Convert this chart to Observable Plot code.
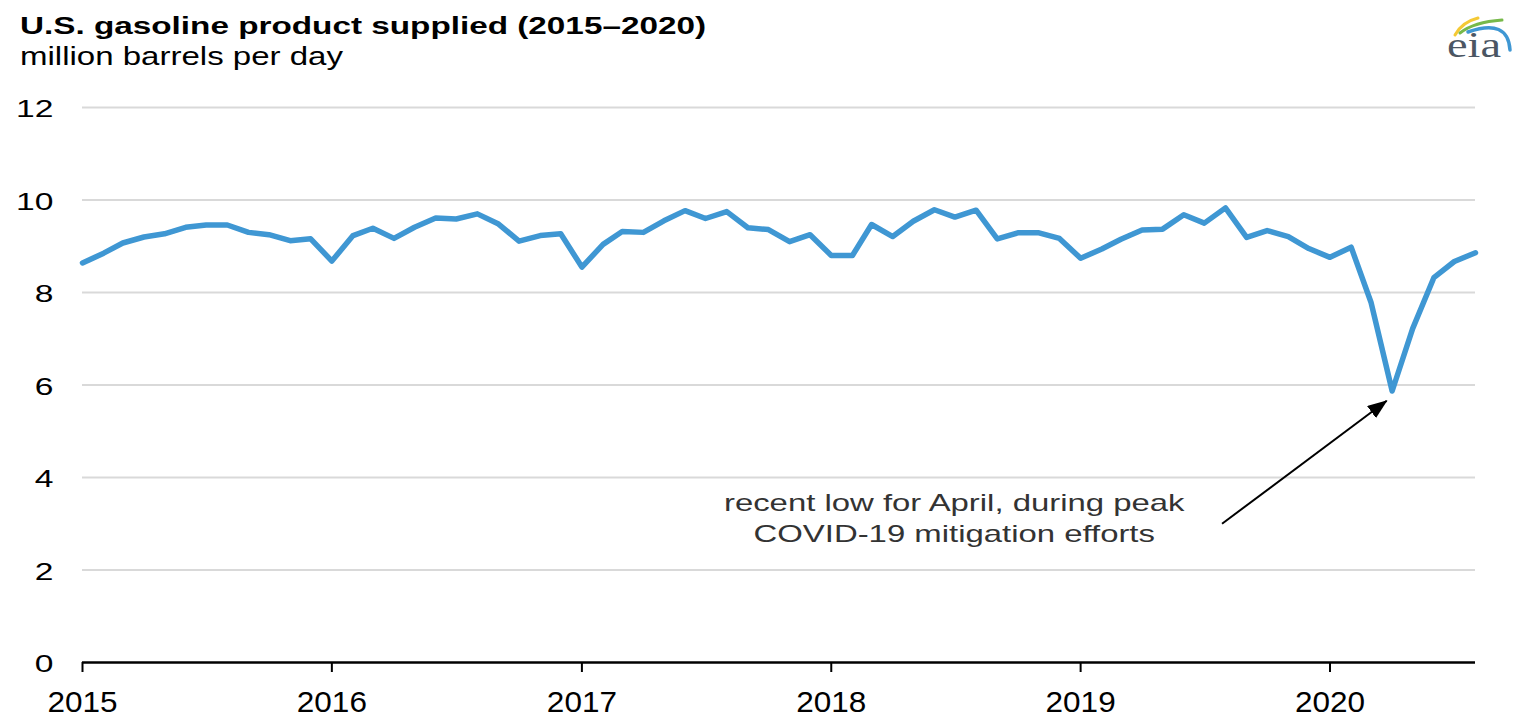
<!DOCTYPE html>
<html>
<head>
<meta charset="utf-8">
<script src="https://cdn.jsdelivr.net/npm/d3@7"></script>
<script src="https://cdn.jsdelivr.net/npm/@observablehq/plot@0.6"></script>
<style>
  html, body { margin: 0; padding: 0; background: #fff; }
  #page { position: relative; width: 1528px; height: 728px; overflow: hidden; background: #fff; color: #000; }
  #head { position: relative; width: 1528px; height: 90px; }
  .ht { position: absolute; white-space: nowrap; transform-origin: 0 0; line-height: 1; font-family: "Liberation Sans", Arial, sans-serif; color: #000; }
  #title { left: 19.5px; top: 15px; font-size: 23.5px; font-weight: bold; }
  #sub { left: 19.5px; top: 44px; font-size: 25px; }
  #logo { position: absolute; left: 1430px; top: 0px; }
  #chart svg { display: block; }
</style>
</head>
<body>
<div id="page">
  <div id="head">
    <span id="title" class="ht">U.S. gasoline product supplied (2015–2020)</span>
    <span id="sub" class="ht">million barrels per day</span>
    <svg id="logo" width="98" height="70" viewBox="1430 0 98 70">
      <path d="M1455,35 Q1462,22 1478,18" fill="none" stroke="#f4c935" stroke-width="3" stroke-linecap="round"/>
      <path d="M1460,33 Q1474,22 1502,20" fill="none" stroke="#77b94a" stroke-width="3" stroke-linecap="round"/>
      <path d="M1468,32 Q1508,18 1510,50" fill="none" stroke="#3f97d3" stroke-width="3.5" stroke-linecap="round"/>
      <text id="eia" x="1447" y="57" font-family="Liberation Serif, DejaVu Serif, serif" font-size="35" fill="#4b5663">eia</text>
    </svg>
  </div>
  <div id="chart"></div>
</div>
<script>
// ---- data ----
const startMonth = new Date(Date.UTC(2015, 0, 1));
const endMonth = new Date(Date.UTC(2020, 7, 1));
const gasoline = [
  8.64, 8.85, 9.07, 9.20, 9.27, 9.41, 9.46, 9.46, 9.30, 9.25, 9.12, 9.16, // 2015
  8.68, 9.23, 9.39, 9.17, 9.41, 9.61, 9.59, 9.70, 9.48, 9.11, 9.23, 9.27, // 2016
  8.55, 9.04, 9.32, 9.30, 9.55, 9.77, 9.60, 9.75, 9.40, 9.36, 9.10, 9.25, // 2017
  8.80, 8.80, 9.47, 9.21, 9.54, 9.79, 9.63, 9.78, 9.16, 9.29, 9.29, 9.17, // 2018
  8.74, 8.94, 9.15, 9.35, 9.37, 9.68, 9.50, 9.83, 9.19, 9.34, 9.21, 8.95, // 2019
  8.76, 8.98, 7.79, 5.87, 7.22, 8.32, 8.67, 8.86                          // 2020
];
const yearTicks = [2015, 2016, 2017, 2018, 2019, 2020];
const yTicks = [0, 2, 4, 6, 8, 10, 12];
const gridValues = [2, 4, 6, 8, 10, 12];
const noteLines = ["recent low for April, during peak", "COVID-19 mitigation efforts"];

// ---- build ----
const months = d3.utcMonth.range(startMonth, d3.utcMonth.offset(endMonth, 1));
const data = months.map((d, i) => ({date: d, value: gasoline[i]}));
const xTicks = yearTicks.map(y => new Date(Date.UTC(y, 0, 1)));
const noteDate = new Date(Date.UTC(2018, 5, 30));
const arrow = [{x1: new Date(Date.UTC(2019, 6, 27)), y1: 3.0, x2: new Date(Date.UTC(2020, 2, 24)), y2: 5.66}];

const svg = Plot.plot({
  width: 1528,
  height: 638,
  marginTop: 17,
  marginBottom: 66,
  marginLeft: 82,
  marginRight: 53,
  x: {type: "utc", domain: [startMonth, endMonth]},
  y: {domain: [0, 12]},
  style: {fontFamily: "'Liberation Sans', Arial, sans-serif", background: "#fff", color: "#000", overflow: "visible"},
  marks: [
    Plot.ruleY(gridValues, {stroke: "#d9d9d9", strokeWidth: 2}),
    Plot.axisY({ticks: yTicks, tickSize: 0, tickPadding: 29, fontSize: 24, dy: 2, label: null, fill: "#000"}),
    Plot.axisX({ticks: xTicks, tickFormat: d => String(d.getUTCFullYear()), tickSize: 10, tickPadding: 18, fontSize: 30, strokeWidth: 2, label: null, stroke: "#000", fill: "#000"}),
    Plot.line(data, {x: "date", y: "value", stroke: "#3f97d3", strokeWidth: 5.5, strokeLinejoin: "round"}),
    Plot.ruleY([0], {stroke: "#000", strokeWidth: 2.3}),
    Plot.text(noteLines, {x: () => noteDate, y: (d, i) => 3.45 - i * 0.685, text: d => d, fontSize: 24, fill: "#333", textAnchor: "middle"}),
    Plot.link(arrow, {x1: "x1", y1: "y1", x2: "x2", y2: "y2", stroke: "#000", strokeWidth: 2})
  ]
});
document.getElementById("chart").appendChild(svg);

// arrowhead (filled triangle)
const ns = "http://www.w3.org/2000/svg";
const defs = document.createElementNS(ns, "defs");
const marker = document.createElementNS(ns, "marker");
marker.setAttribute("id", "ah");
marker.setAttribute("viewBox", "0 0 10 7.5");
marker.setAttribute("refX", "9.5");
marker.setAttribute("refY", "3.75");
marker.setAttribute("markerWidth", "10");
marker.setAttribute("markerHeight", "7.5");
marker.setAttribute("orient", "auto");
marker.setAttribute("markerUnits", "strokeWidth");
const mp = document.createElementNS(ns, "path");
mp.setAttribute("d", "M0,0L10,3.75L0,7.5z");
mp.setAttribute("fill", "#000");
marker.appendChild(mp);
defs.appendChild(marker);
svg.insertBefore(defs, svg.firstChild);
const linkPath = svg.querySelector('g[aria-label="link"] path') || svg.querySelector('g[aria-label="link"] line');
if (linkPath) linkPath.setAttribute("marker-end", "url(#ah)");

// horizontal stretch of text to match the reference's wide lettering
function stretch(el, k) {
  const L = el.getComputedTextLength();
  el.setAttribute("textLength", (L * k).toFixed(1));
  el.setAttribute("lengthAdjust", "spacingAndGlyphs");
}
svg.querySelectorAll("text").forEach(t => {
  const s = t.textContent.trim();
  if (t.querySelector("tspan")) return;
  if (/^\d{4}$/.test(s)) stretch(t, 1.05);
  else if (/^\d+$/.test(s)) stretch(t, 1.40);
  else stretch(t, 1.37);
});
function fitWidth(id, w) {
  const el = document.getElementById(id);
  const cw = el.getBoundingClientRect().width;
  el.style.transform = `scaleX(${w / cw})`;
}
fitWidth("title", 686);
fitWidth("sub", 323);
const eia = document.getElementById("eia");
eia.setAttribute("textLength", "54");
eia.setAttribute("lengthAdjust", "spacingAndGlyphs");
</script>
</body>
</html>
